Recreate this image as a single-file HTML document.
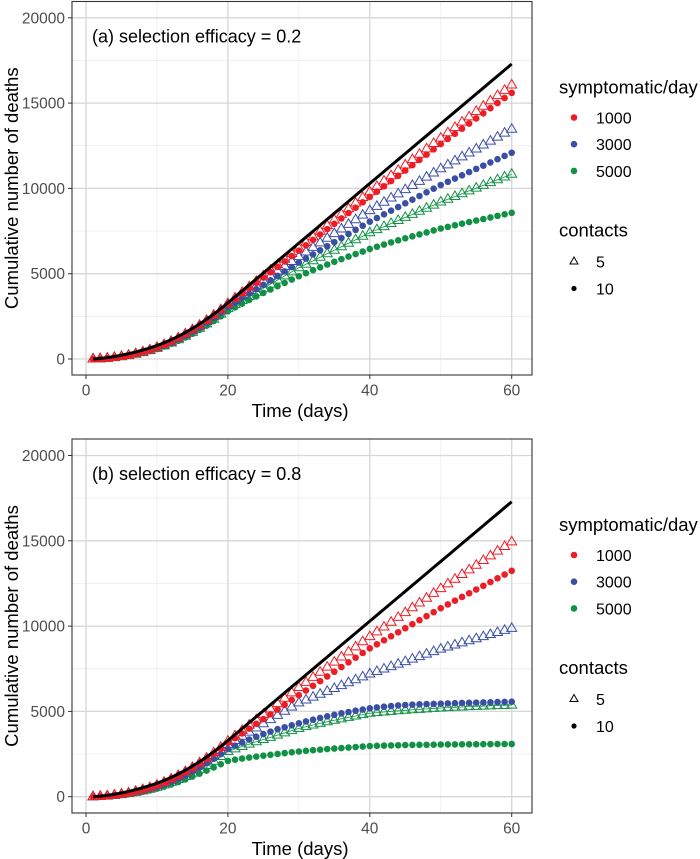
<!DOCTYPE html>
<html><head><meta charset="utf-8"><style>
body{margin:0;background:#fff;}
svg{display:block;font-family:"Liberation Sans",Arial,sans-serif;}
</style></head><body>
<svg id="chart" width="700" height="859" viewBox="0 0 700 859"></svg>
<script>
const days = Array.from({length:60},(_,i)=>i+1);
const xTicks = [0,20,40,60];
const yTicks = [0,5000,10000,15000,20000];
const legendSymptomatic = ["1000","3000","5000"];
const legendContacts = ["5","10"];
const colors = {"1000":"#ee1c25","3000":"#3a4fa3","5000":"#119145"};

const black = [0,30,80,145,220,310,410,525,650,790,950,1130,1330,1550,1790,2050,2330,2630,2950,3290,3640,3990,4340,4690,5040,5390,5740,6090,6440,6790,7140,7490,7840,8190,8540,8890,9240,9590,9940,10290,10640,10990,11340,11690,12040,12390,12740,13090,13440,13790,14140,14490,14840,15190,15540,15890,16240,16590,16940,17290];

const aRedT = [0,15,45,90,150,220,310,415,535,680,845,1035,1240,1470,1715,1980,2265,2570,2895,3250,3575,3900,4225,4550,4875,5200,5525,5850,6175,6500,6830,7160,7490,7820,8150,8480,8810,9140,9470,9800,10115,10430,10745,11060,11375,11690,12005,12320,12635,12950,13261,13572,13883,14194,14505,14816,15127,15438,15749,16060];
const aRedD = [0,15,45,85,145,220,305,405,530,670,835,1020,1220,1445,1690,1950,2230,2530,2850,3200,3515,3830,4145,4460,4775,5090,5405,5720,6035,6350,6665,6980,7295,7610,7925,8240,8555,8870,9185,9500,9810,10120,10430,10740,11050,11360,11670,11980,12290,12600,12900,13200,13500,13800,14100,14400,14700,15000,15300,15600];
const aBlueT = [0,15,45,85,145,215,300,400,520,660,820,1000,1205,1425,1660,1920,2195,2495,2810,3150,3435,3720,4005,4290,4575,4860,5145,5430,5715,6000,6270,6540,6810,7080,7350,7620,7890,8160,8430,8700,8945,9190,9435,9680,9925,10170,10415,10660,10905,11150,11382,11614,11846,12078,12310,12542,12774,13006,13238,13470];
const aBlueD = [0,15,40,85,140,210,290,390,505,640,795,970,1165,1380,1610,1860,2130,2415,2720,3050,3310,3570,3830,4090,4350,4610,4870,5130,5390,5650,5890,6130,6370,6610,6850,7090,7330,7570,7810,8050,8265,8480,8695,8910,9125,9340,9555,9770,9985,10200,10389,10578,10767,10956,11145,11334,11523,11712,11901,12090];
const aGreenT = [0,15,40,80,135,200,280,375,490,620,770,940,1130,1335,1560,1800,2060,2335,2630,2950,3190,3430,3670,3910,4150,4390,4630,4870,5110,5350,5555,5760,5965,6170,6375,6580,6785,6990,7195,7400,7580,7760,7940,8120,8300,8480,8660,8840,9020,9200,9363,9526,9689,9852,10015,10178,10341,10504,10667,10830];
const aGreenD = [0,15,40,75,130,190,270,360,465,585,730,890,1070,1265,1480,1710,1955,2220,2500,2800,3025,3245,3460,3670,3875,4075,4270,4460,4655,4850,5030,5205,5375,5540,5700,5855,6005,6150,6300,6450,6580,6710,6835,6955,7075,7190,7305,7420,7535,7650,7745,7840,7935,8025,8115,8205,8295,8390,8480,8570];

const bRedT = [0,15,45,90,150,220,310,415,535,680,845,1035,1240,1470,1715,1980,2265,2570,2895,3250,3565,3880,4195,4510,4825,5140,5455,5770,6085,6400,6698,6996,7294,7592,7890,8188,8486,8784,9082,9380,9662,9944,10226,10508,10790,11072,11354,11636,11918,12200,12474,12748,13022,13296,13570,13844,14118,14392,14666,14940];
const bRedD = [0,15,45,85,140,215,300,400,520,665,825,1005,1205,1425,1665,1925,2205,2500,2815,3150,3430,3710,3990,4270,4550,4830,5110,5390,5670,5950,6225,6500,6775,7050,7325,7600,7875,8150,8425,8700,8935,9170,9405,9640,9875,10110,10345,10580,10815,11050,11269,11488,11707,11926,12145,12364,12583,12802,13021,13240];
const bBlueT = [0,15,40,85,140,210,290,390,505,640,795,970,1165,1380,1610,1860,2130,2415,2720,3050,3295,3540,3785,4030,4275,4520,4765,5010,5255,5500,5669,5838,6007,6176,6345,6514,6683,6852,7021,7190,7336,7482,7628,7774,7920,8066,8212,8358,8504,8650,8772,8894,9016,9138,9260,9382,9504,9626,9748,9870];
const bBlueD = [0,15,40,75,130,190,270,360,465,585,730,890,1070,1265,1480,1710,1955,2220,2500,2800,2990,3175,3350,3515,3670,3815,3955,4070,4185,4300,4410,4515,4615,4710,4800,4885,4965,5040,5110,5180,5230,5275,5315,5350,5375,5395,5415,5430,5440,5450,5465,5480,5495,5505,5515,5525,5535,5545,5555,5570];
const bGreenT = [0,10,35,70,120,180,255,340,440,555,690,840,1005,1185,1385,1600,1830,2080,2355,2650,2800,2945,3085,3220,3350,3480,3610,3740,3870,4000,4105,4205,4300,4390,4480,4565,4650,4730,4810,4890,4930,4965,5000,5035,5065,5095,5120,5150,5175,5200,5220,5240,5260,5280,5295,5310,5325,5340,5355,5370];
const bGreenD = [0,10,30,60,100,150,210,285,370,470,585,715,860,1015,1180,1350,1530,1715,1905,2100,2170,2235,2295,2350,2405,2455,2505,2555,2600,2650,2690,2725,2760,2790,2820,2850,2880,2910,2940,2970,2985,2995,3005,3015,3025,3035,3040,3045,3050,3060,3063,3066,3069,3072,3075,3078,3081,3084,3087,3090];

const NS="http://www.w3.org/2000/svg";
const svg=document.getElementById('chart');
function mk(tag,attrs,parent){const e=document.createElementNS(NS,tag);for(const k in attrs)e.setAttribute(k,attrs[k]);(parent||svg).appendChild(e);return e;}

const xScale = d => 86 + d*(511.7-86)/60;
function panel(top,bottom,y0,label,prefix,series){
  const yScale = v => y0 - v*341.2/20000;
  const g=mk('g',{});
  
  
  for(let v=2500; v<20000; v+=5000){
    const l=mk('line',{x1:72,x2:532,y1:yScale(v),y2:yScale(v),stroke:'#ebebeb','stroke-width':0.7},g);
    
    
  }
  for(const d of [10,30,50]){
    const l=mk('line',{x1:xScale(d),x2:xScale(d),y1:top,y2:bottom,stroke:'#ebebeb','stroke-width':0.7},g);
    
    
  }
  for(const v of yTicks){
    const l=mk('line',{x1:72,x2:532,y1:yScale(v),y2:yScale(v),stroke:'#d6d6d6','stroke-width':1.3},g);
    
    
    const t=mk('line',{x1:68,x2:72,y1:yScale(v),y2:yScale(v),stroke:'#333','stroke-width':1},g);
    
    
    const tx=mk('text',{x:65,y:yScale(v)+5.5,'text-anchor':'end','font-size':15.5,fill:'#4d4d4d'},g);
    tx.textContent=v;
    
    
  }
  for(const d of xTicks){
    const l=mk('line',{x1:xScale(d),x2:xScale(d),y1:top,y2:bottom,stroke:'#d6d6d6','stroke-width':1.3},g);
    
    
    const t=mk('line',{x1:xScale(d),x2:xScale(d),y1:bottom,y2:bottom+4,stroke:'#333','stroke-width':1},g);
    
    
    const tx=mk('text',{x:xScale(d),y:bottom+20.5,'text-anchor':'middle','font-size':15.5,fill:'#4d4d4d'},g);
    tx.textContent=d;
    
    
  }
  const pts = arr => arr.map((v,i)=>xScale(days[i])+','+yScale(v)).join(' ');
  for(const s of series){
    if(s.line){
      const pl=mk('polyline',{points:pts(s.vals),fill:'none',stroke:s.color,'stroke-width':s.width,'stroke-linejoin':'round'},g);
      
      
    }
    if(s.shape){
      const sg=mk('g',{},g);
      
      
      s.vals.forEach((v,i)=>{
        const x=xScale(days[i]), y=yScale(v);
        let m;
        if(s.shape==='dot') m=mk('circle',{cx:x,cy:y,r:3.3,fill:s.color},sg);
        else m=mk('polygon',{points:`${x},${y-5.5} ${x-5},${y+3} ${x+5},${y+3}`,fill:'none',stroke:s.color,'stroke-width':1},sg);
        
        
      });
    }
  }
  const border=mk('rect',{x:72,y:top,width:460,height:bottom-top,fill:'none',stroke:'#333','stroke-width':1.1},g);
  
  
  const lab=mk('text',{x:92,y:top+41,'font-size':18,fill:'#000'},g);
  lab.textContent=label;
  
  
  const yt=mk('text',{x:0,y:0,'font-size':18.5,fill:'#000','text-anchor':'middle',transform:`translate(18,${(top+bottom)/2}) rotate(-90)`},g);
  yt.textContent='Cumulative number of deaths';
  
  
  const xt=mk('text',{x:300,y:bottom+42,'font-size':18.5,fill:'#000','text-anchor':'middle'},g);
  xt.textContent='Time (days)';
  
  
  const lg=mk('g',{},g);
  
  
  const ly=top+92;
  const h1=mk('text',{x:559,y:ly,'font-size':18.5,fill:'#000'},lg);
  h1.textContent='symptomatic/day';
  
  
  legendSymptomatic.forEach((k,i)=>{
    const cy=ly+24+i*26.7;
    const c=mk('circle',{cx:574,cy:cy,r:3.3,fill:colors[k]},lg);
    
    
    const t=mk('text',{x:596,y:cy+6,'font-size':16,fill:'#000'},lg);
    t.textContent=k;
    
    
  });
  const h2=mk('text',{x:559,y:ly+143,'font-size':18.5,fill:'#000'},lg);
  h2.textContent='contacts';
  
  
  legendContacts.forEach((k,i)=>{
    const cy=ly+168+i*27;
    let m;
    if(i===0) m=mk('polygon',{points:`574,${cy-4.5} 570,${cy+2.5} 578,${cy+2.5}`,fill:'none',stroke:'#000','stroke-width':1},lg);
    else m=mk('circle',{cx:574,cy:cy,r:2.6,fill:'#000'},lg);
    
    
    const t=mk('text',{x:596,y:cy+6,'font-size':16,fill:'#000'},lg);
    t.textContent=k;
    
    
  });
}
panel(1.5,375,359,'(a) selection efficacy = 0.2','a',[
  {name:'green-5-contacts',vals:aGreenT,color:colors['5000'],shape:'tri',line:true,width:0.8},
  {name:'green-10-contacts',vals:aGreenD,color:colors['5000'],shape:'dot'},
  {name:'blue-5-contacts',vals:aBlueT,color:colors['3000'],shape:'tri'},
  {name:'blue-10-contacts',vals:aBlueD,color:colors['3000'],shape:'dot'},
  {name:'red-5-contacts',vals:aRedT,color:colors['1000'],shape:'tri'},
  {name:'red-10-contacts',vals:aRedD,color:colors['1000'],shape:'dot'},
  {name:'no-intervention-line',vals:black,color:'#000',line:true,width:3}
]);
panel(439,813,796.7,'(b) selection efficacy = 0.8','b',[
  {name:'green-5-contacts',vals:bGreenT,color:colors['5000'],shape:'tri',line:true,width:0.8},
  {name:'green-10-contacts',vals:bGreenD,color:colors['5000'],shape:'dot'},
  {name:'blue-5-contacts',vals:bBlueT,color:colors['3000'],shape:'tri'},
  {name:'blue-10-contacts',vals:bBlueD,color:colors['3000'],shape:'dot'},
  {name:'red-5-contacts',vals:bRedT,color:colors['1000'],shape:'tri'},
  {name:'red-10-contacts',vals:bRedD,color:colors['1000'],shape:'dot'},
  {name:'no-intervention-line',vals:black,color:'#000',line:true,width:3}
]);
</script>
</body></html>
